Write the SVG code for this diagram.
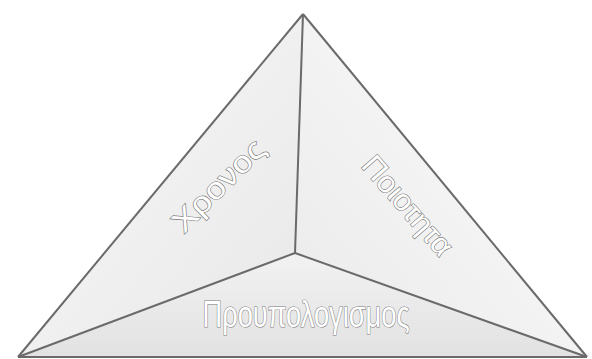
<svg xmlns="http://www.w3.org/2000/svg" width="592" height="359" viewBox="0 0 592 359">
<defs>
<linearGradient id="gl" x1="0" y1="0" x2="1" y2="1"><stop offset="0" stop-color="#f8f8f8"/><stop offset="1" stop-color="#e8e8e8"/></linearGradient>
<linearGradient id="gr" x1="1" y1="0" x2="0" y2="1"><stop offset="0" stop-color="#fcfcfc"/><stop offset="1" stop-color="#eaeaea"/></linearGradient>
<linearGradient id="gb" x1="0" y1="0" x2="0" y2="1"><stop offset="0" stop-color="#f2f2f2"/><stop offset="1" stop-color="#e2e2e2"/></linearGradient>
</defs>
<style>
.edge{stroke:#6a6a6a;stroke-width:2;fill:none;stroke-linejoin:round}
.lbl{font-family:"Liberation Sans","DejaVu Sans",sans-serif;fill:#ffffff;stroke:#7a7a7a;stroke-width:1.2;paint-order:stroke}
</style>
<rect width="592" height="359" fill="#ffffff"/>
<g id="face-left">
<polygon points="303,14 295,253 18,357" fill="url(#gl)"/>
<text class="lbl" font-size="30" transform="translate(220,187) rotate(-45)" text-anchor="middle" dominant-baseline="middle" textLength="118" lengthAdjust="spacingAndGlyphs">Χρονος</text>
</g>
<g id="face-right">
<polygon points="303,14 587,357 295,253" fill="url(#gr)"/>
<text class="lbl" font-size="30" transform="translate(406,207) rotate(49)" text-anchor="middle" dominant-baseline="middle" textLength="122" lengthAdjust="spacingAndGlyphs">Ποιοτητα</text>
</g>
<g id="face-bottom">
<polygon points="18,357 295,253 587,357" fill="url(#gb)"/>
<text class="lbl" font-size="36" x="306" y="327" text-anchor="middle" textLength="207" lengthAdjust="spacingAndGlyphs">Προυπολογισμος</text>
</g>
<g id="connectors">
<line class="edge" x1="303" y1="14" x2="18" y2="357"/>
<line class="edge" x1="303" y1="14" x2="587" y2="357"/>
<line class="edge" x1="303" y1="14" x2="295" y2="253"/>
<line class="edge" x1="295" y1="253" x2="18" y2="357"/>
<line class="edge" x1="295" y1="253" x2="587" y2="357"/>
<line class="edge" x1="18" y1="357" x2="587" y2="357" stroke-width="3" stroke="#777"/>
</g>
</svg>
